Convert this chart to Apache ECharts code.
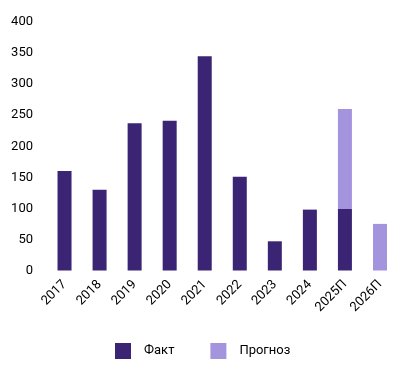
<!DOCTYPE html>
<html>
<head>
<meta charset="utf-8">
<script src="https://cdn.jsdelivr.net/npm/echarts@6/dist/echarts.min.js"></script>
<style>html,body{margin:0;padding:0;background:#fff}#c{width:412px;height:372px}</style>
</head>
<body>
<div id="c"></div>
<script>
const categories = ['2017','2018','2019','2020','2021','2022','2023','2024','2025П','2026П'];
const factValues = [160, 130, 237, 241, 345, 151, 47, 98, 99, null];
const forecastValues = [null, null, null, null, null, null, null, null, 161, 75];
const yTicks = [0, 50, 100, 150, 200, 250, 300, 350, 400];

const chart = echarts.init(document.getElementById('c'), null, {renderer: 'canvas'});
const font = 'Roboto, "Liberation Sans", sans-serif';
chart.setOption({
  animation: false,
  grid: {left: 47, right: 14.5, top: 22, bottom: 101.5},
  xAxis: {
    type: 'category',
    data: categories,
    axisLine: {show: false},
    axisTick: {show: false},
    axisLabel: {rotate: 45, margin: 12, color: '#000', fontSize: 13, fontFamily: font}
  },
  yAxis: {
    type: 'value',
    min: yTicks[0],
    max: yTicks[yTicks.length - 1],
    interval: 50,
    splitLine: {show: false},
    axisLine: {show: false},
    axisTick: {show: false},
    axisLabel: {margin: 14, color: '#000', fontSize: 13, fontFamily: font}
  },
  legend: {
    left: 115,
    top: 343,
    padding: 0,
    itemWidth: 16,
    itemHeight: 16,
    itemGap: 36,
    icon: 'rect',
    textStyle: {color: '#000', fontSize: 13, fontFamily: font, padding: [0, 0, 0, 8]},
    data: ['Факт', 'Прогноз']
  },
  series: [
    {name: 'Факт', type: 'bar', stack: 't', data: factValues, barWidth: 14,
     itemStyle: {color: '#3A2473'}},
    {name: 'Прогноз', type: 'bar', stack: 't', data: forecastValues, barWidth: 14,
     itemStyle: {color: '#A493DD'}}
  ]
});
</script>
</body>
</html>
